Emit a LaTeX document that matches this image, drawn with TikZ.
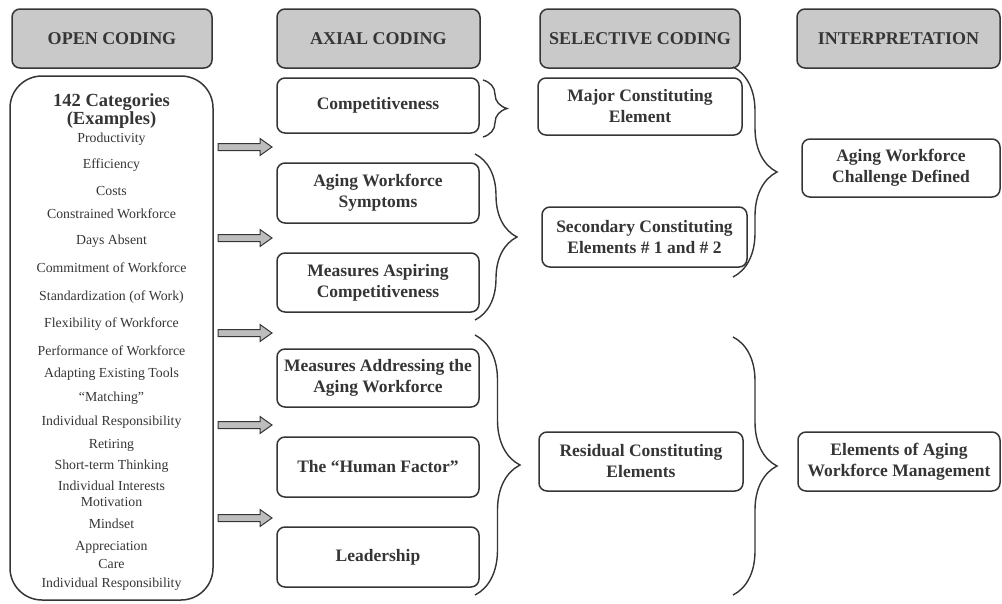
\documentclass[tikz,border=0pt]{standalone}
\usepackage{fontspec}
\setmainfont{Liberation Serif}
\usetikzlibrary{decorations.pathreplacing}
\definecolor{ink}{HTML}{353535}
\definecolor{headfill}{HTML}{C9C9C9}
\definecolor{arrfill}{HTML}{BDBDBD}
\tikzset{
  box/.style={draw=ink, line width=1.5pt, rounded corners=8pt, align=center,
    font=\fontsize{17.5}{21}\selectfont\bfseries, text=ink, inner sep=1pt},
  headbox/.style={box, fill=headfill, minimum height=59pt, font=\fontsize{18}{20}\selectfont\bfseries},
  item/.style={font=\fontsize{13.8}{14}\selectfont, text=ink, inner sep=0pt},
  bracedeco/.style={draw=ink, line width=1.4pt, decorate, decoration={brace, amplitude=#1}},
  blockarrow/.style={draw=ink, line width=1pt, fill=arrfill}
}
\begin{document}
\begin{tikzpicture}[x=1pt, y=-1pt]
\useasboundingbox (0,0) rectangle (1002,603);

% headers
\node[headbox, minimum width=200pt] (h1) at (112,38.5) {OPEN CODING};
\node[headbox, minimum width=203pt] (h2) at (378.5,38.5) {AXIAL CODING};
\node[headbox, minimum width=200pt] (h3) at (640,38.5) {SELECTIVE CODING};
\node[headbox, minimum width=203pt] (h4) at (898.5,38.5) {INTERPRETATION};

% open coding box
\node[draw=ink, line width=1.5pt, rounded corners=32pt, minimum width=203pt, minimum height=524pt] (open) at (111.5,338) {};
\node[font=\fontsize{18.5}{17.5}\selectfont\bfseries, text=ink, align=center, inner sep=0pt] (cat) at (111.5,111) {142 Categories\\(Examples)};
\foreach \t/\y [count=\i] in {Productivity/139, Efficiency/165, Costs/191, Constrained Workforce/214,
  Days Absent/241, Commitment of Workforce/268, Standardization (of Work)/297,
  Flexibility of Workforce/324, Performance of Workforce/351, Adapting Existing Tools/374,
  “Matching”/398, Individual Responsibility/422, Retiring/445, Short-term Thinking/466,
  Individual Interests/486, Motivation/502, Mindset/524, Appreciation/547, Care/564,
  Individual Responsibility/584}
  \node[item] (it\i) at (111.5,\y) {\t};

% block arrows
\foreach \y [count=\i] in {147,238,333,425,518}{
  \coordinate (a\i) at (218,\y);
  \draw[blockarrow] (a\i) ++(0,-3.5) -- ++(42,0) -- ++(0,-5) -- ++(12,8.5) -- ++(-12,8.5) -- ++(0,-5) -- ++(-42,0) -- cycle;
}

% axial coding
\node[box, minimum width=202pt, minimum height=55pt] (comp) at (378,105.5) {Competitiveness};
\node[box, minimum width=202pt, minimum height=60pt] (sym) at (378,193) {Aging Workforce\\Symptoms};
\node[box, minimum width=202pt, minimum height=59pt] (asp) at (378,282.5) {Measures Aspiring\\Competitiveness};
\node[box, minimum width=202pt, minimum height=58pt] (addr) at (378,378) {Measures Addressing the\\Aging Workforce};
\node[box, minimum width=202pt, minimum height=60pt] (hum) at (378,467) {The “Human Factor”};
\node[box, minimum width=202pt, minimum height=60pt] (lead) at (378,557) {Leadership};

% selective coding
\node[box, minimum width=204pt, minimum height=57pt] (major) at (640,106.5) {Major Constituting\\Element};
\node[box, minimum width=205pt, minimum height=60pt] (second) at (644.5,237) {Secondary Constituting\\Elements \# 1 and \# 2};
\node[box, minimum width=204pt, minimum height=59pt] (resid) at (641,461.5) {Residual Constituting\\Elements};

% interpretation
\node[box, minimum width=198pt, minimum height=58pt] (chal) at (901,168) {Aging Workforce\\Challenge Defined};
\node[box, minimum width=202pt, minimum height=59pt] (elem) at (899,461.5) {Elements of Aging\\Workforce Management};

% braces
\coordinate (b1t) at (483,80);  \coordinate (b1b) at (483,137);
\coordinate (b2t) at (475,154); \coordinate (b2b) at (475,320);
\coordinate (b3t) at (475,335); \coordinate (b3b) at (475,595);
\coordinate (b4t) at (733,67);  \coordinate (b4b) at (733,277);
\coordinate (b5t) at (733,337); \coordinate (b5b) at (733,595);
\draw[bracedeco=24pt] (b1t) -- (b1b);
\draw[bracedeco=42pt] (b2t) -- (b2b);
\draw[bracedeco=45pt] (b3t) -- (b3b);
\draw[bracedeco=44pt] (b4t) -- (b4b);
\draw[bracedeco=44pt] (b5t) -- (b5b);
\end{tikzpicture}
\end{document}
